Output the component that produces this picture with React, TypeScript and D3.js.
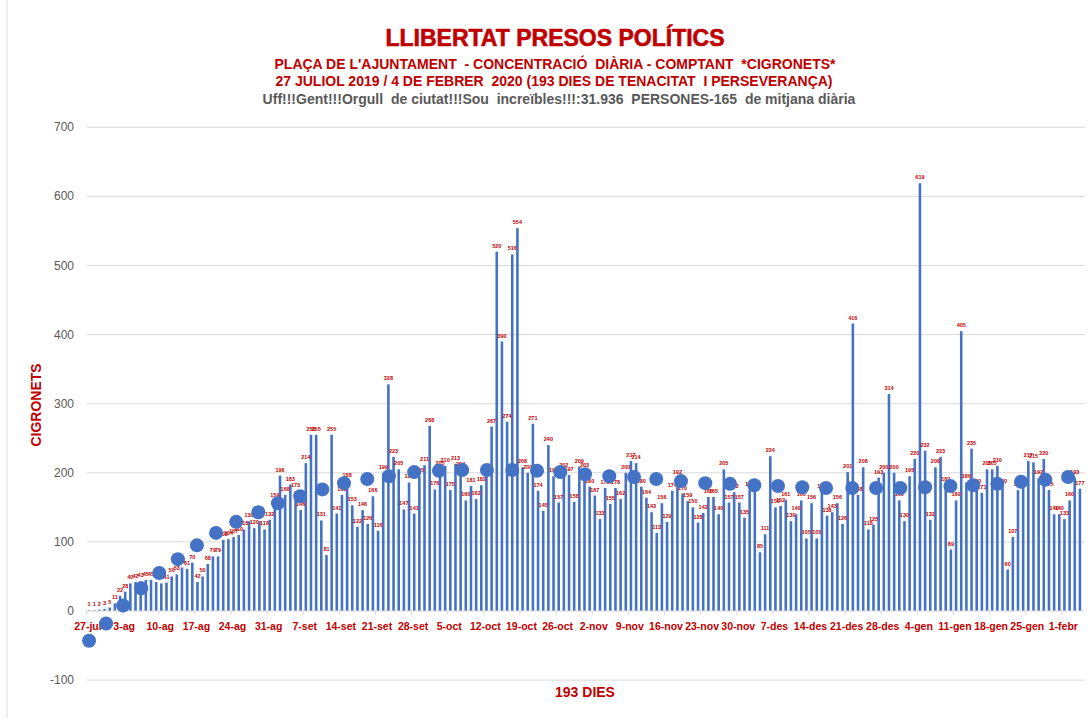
import React from "react";
import * as d3 from "d3";

const days: number[] = d3.range(193);
const values: number[] = [
  1, 1, 2, 3, 5, 11, 22, 28, 40, 42, 43, 45, 45, 42, 40, 41, 50, 53, 63, 61,
  70, 42, 50, 68, 79, 79, 103, 104, 107, 110, 118, 130, 120, 130, 118, 132, 159, 196, 168, 183,
  173, 146, 214, 255, 255, 131, 81, 255, 141, 168, 188, 153, 122, 146, 126, 166, 116, 199, 328, 223,
  205, 147, 186, 141, 195, 211, 268, 176, 205, 210, 175, 213, 204, 160, 181, 162, 182, 200, 267, 520,
  390, 274, 516, 554, 208, 200, 271, 174, 145, 240, 195, 157, 202, 197, 158, 209, 203, 180, 167, 133,
  178, 155, 178, 162, 200, 217, 214, 180, 164, 143, 113, 156, 129, 174, 192, 170, 159, 150, 128, 142,
  165, 165, 140, 205, 157, 172, 157, 135, 175, 173, 85, 111, 224, 150, 152, 161, 130, 140, 160, 105,
  156, 105, 172, 138, 143, 156, 126, 201, 416, 168, 208, 118, 125, 193, 200, 314, 200, 160, 130, 195,
  220, 619, 232, 132, 208, 223, 182, 89, 160, 405, 186, 235, 180, 171, 205, 205, 210, 180, 60, 107,
  175, 180, 217, 215, 192, 220, 175, 140, 140, 133, 160, 193, 177,
];

const weekLabels: string[] = [
  "27-jul", "3-ag", "10-ag", "17-ag", "24-ag", "31-ag", "7-set", "14-set", "21-set", "28-set",
  "5-oct", "12-oct", "19-oct", "26-oct", "2-nov", "9-nov", "16-nov", "23-nov", "30-nov", "7-des",
  "14-des", "21-des", "28-des", "4-gen", "11-gen", "18-gen", "25-gen", "1-febr",
];

const dotDays: number[] = [
  0, 3.3, 6.6, 10.1, 13.6, 17.2, 20.9, 24.6, 28.5, 32.8, 36.6, 40.9, 45.2, 49.4, 53.9, 58.1,
  63.0, 67.8, 72.3, 77.1, 82.0, 86.8, 91.3, 96.1, 100.8, 105.6, 109.9, 114.7, 119.4, 124.2,
  128.9, 133.5, 138.2, 142.8, 147.9, 152.5, 157.2, 162.0, 166.9, 171.3, 176.0, 180.6, 185.3, 189.7,
];
const dotValues: number[] = [
  -43, -18, 8, 33, 55, 75, 95, 113, 129, 143, 156, 166, 176, 185, 191, 195,
  201, 203, 204, 204, 204, 203, 201, 198, 195, 194, 191, 188, 185, 184,
  182, 181, 179, 178, 178, 178, 178, 179, 181, 182, 184, 187, 190, 194,
];

const yTicks: number[] = [-100, 0, 100, 200, 300, 400, 500, 600, 700];

const RED = "#c00000";
const BLUE = "#4472c4";
const GRAY = "#595959";
const FONT = "'Liberation Sans', Arial, sans-serif";

export default function App() {
  const W = 1089;
  const H = 718;
  const x = d3.scaleBand<number>().domain(days).range([86.5, 1082.5]).paddingInner(0.5).paddingOuter(0.25);
  const xStart = (d: number) => 86.5 + d * (996 / 193);
  const xCenter = (d: number) => xStart(d) + (996 / 193) / 2;
  const y = d3.scaleLinear().domain([-100, 700]).range([680.1, 127.3]);
  const bw = Math.max(2.3, x.bandwidth());
  const pre = { whiteSpace: "pre" as const };

  return (
    <svg width={W} height={H} style={{ position: "absolute", left: 0, top: 0, background: "#fff" }}>
      <line x1={7} x2={7} y1={0} y2={H} stroke="#d9d9d9" strokeWidth={1} />
      {/* titles */}
      <text x={555} y={46} textAnchor="middle" fill={RED} fontFamily={FONT} fontWeight={900} fontSize={23} stroke={RED} strokeWidth={0.6} style={pre}>
        LLIBERTAT PRESOS POLÍTICS
      </text>
      <text x={555} y={69} textAnchor="middle" fill={RED} fontFamily={FONT} fontWeight="bold" fontSize={14} style={pre}>
        PLAÇA DE L'AJUNTAMENT  - CONCENTRACIÓ  DIÀRIA - COMPTANT  *CIGRONETS*
      </text>
      <text x={554} y={86} textAnchor="middle" fill={RED} fontFamily={FONT} fontWeight="bold" fontSize={14} style={pre}>
        27 JULIOL 2019 / 4 DE FEBRER  2020 (193 DIES DE TENACITAT  I PERSEVERANÇA)
      </text>
      <text x={559} y={104} textAnchor="middle" fill={GRAY} fontFamily={FONT} fontWeight="bold" fontSize={14} style={pre}>
        Uff!!!Gent!!!Orgull  de ciutat!!!Sou  increïbles!!!:31.936  PERSONES-165  de mitjana diària
      </text>

      {/* gridlines & y ticks */}
      {yTicks.map((t) => (
        <g key={t}>
          {t !== 0 && (
            <line x1={87} x2={1085} y1={y(t)} y2={y(t)} stroke="#d9d9d9" strokeWidth={1} />
          )}
          <text x={74} y={y(t) + 4} textAnchor="end" fill={GRAY} fontFamily={FONT} fontSize={12}>
            {t}
          </text>
        </g>
      ))}

      {/* bars */}
      {days.map((d, i) => {
        const v = values[i];
        const cx = xCenter(d);
        return (
          <rect key={d} x={cx - bw / 2} y={y(v)} width={bw} height={y(0) - y(v)} fill={BLUE} />
        );
      })}

      {/* x axis */}
      <line x1={86.5} x2={1085} y1={y(0)} y2={y(0)} stroke="#d9d9d9" strokeWidth={1} />
      {weekLabels.map((lab, k) => {
        const xx = xStart(k * 7);
        return (
          <g key={lab}>
            <line x1={xx} x2={xx} y1={y(0)} y2={y(0) + 4} stroke="#d9d9d9" />
            <text x={xx + 1.5} y={630} textAnchor="middle" fill={RED} fontFamily={FONT} fontWeight="bold" fontSize={10.5}>
              {lab}
            </text>
          </g>
        );
      })}

      {/* data labels */}
      {days.map((d, i) => (
        <text key={d} x={xCenter(d)} y={y(values[i]) - 4} textAnchor="middle" fill={RED} fontFamily={FONT} fontWeight="bold" fontSize={5.5}>
          {values[i]}
        </text>
      ))}

      {/* dots */}
      {dotDays.map((dd, i) => (
        <circle key={i} cx={xCenter(dd)} cy={y(dotValues[i])} r={7} fill={BLUE} />
      ))}

      {/* axis titles */}
      <text transform="translate(41,405) rotate(-90)" textAnchor="middle" fill={RED} fontFamily={FONT} fontWeight="bold" fontSize={14}>
        CIGRONETS
      </text>
      <text x={585} y={697} textAnchor="middle" fill={RED} fontFamily={FONT} fontWeight="bold" fontSize={14}>
        193 DIES
      </text>
    </svg>
  );
}
